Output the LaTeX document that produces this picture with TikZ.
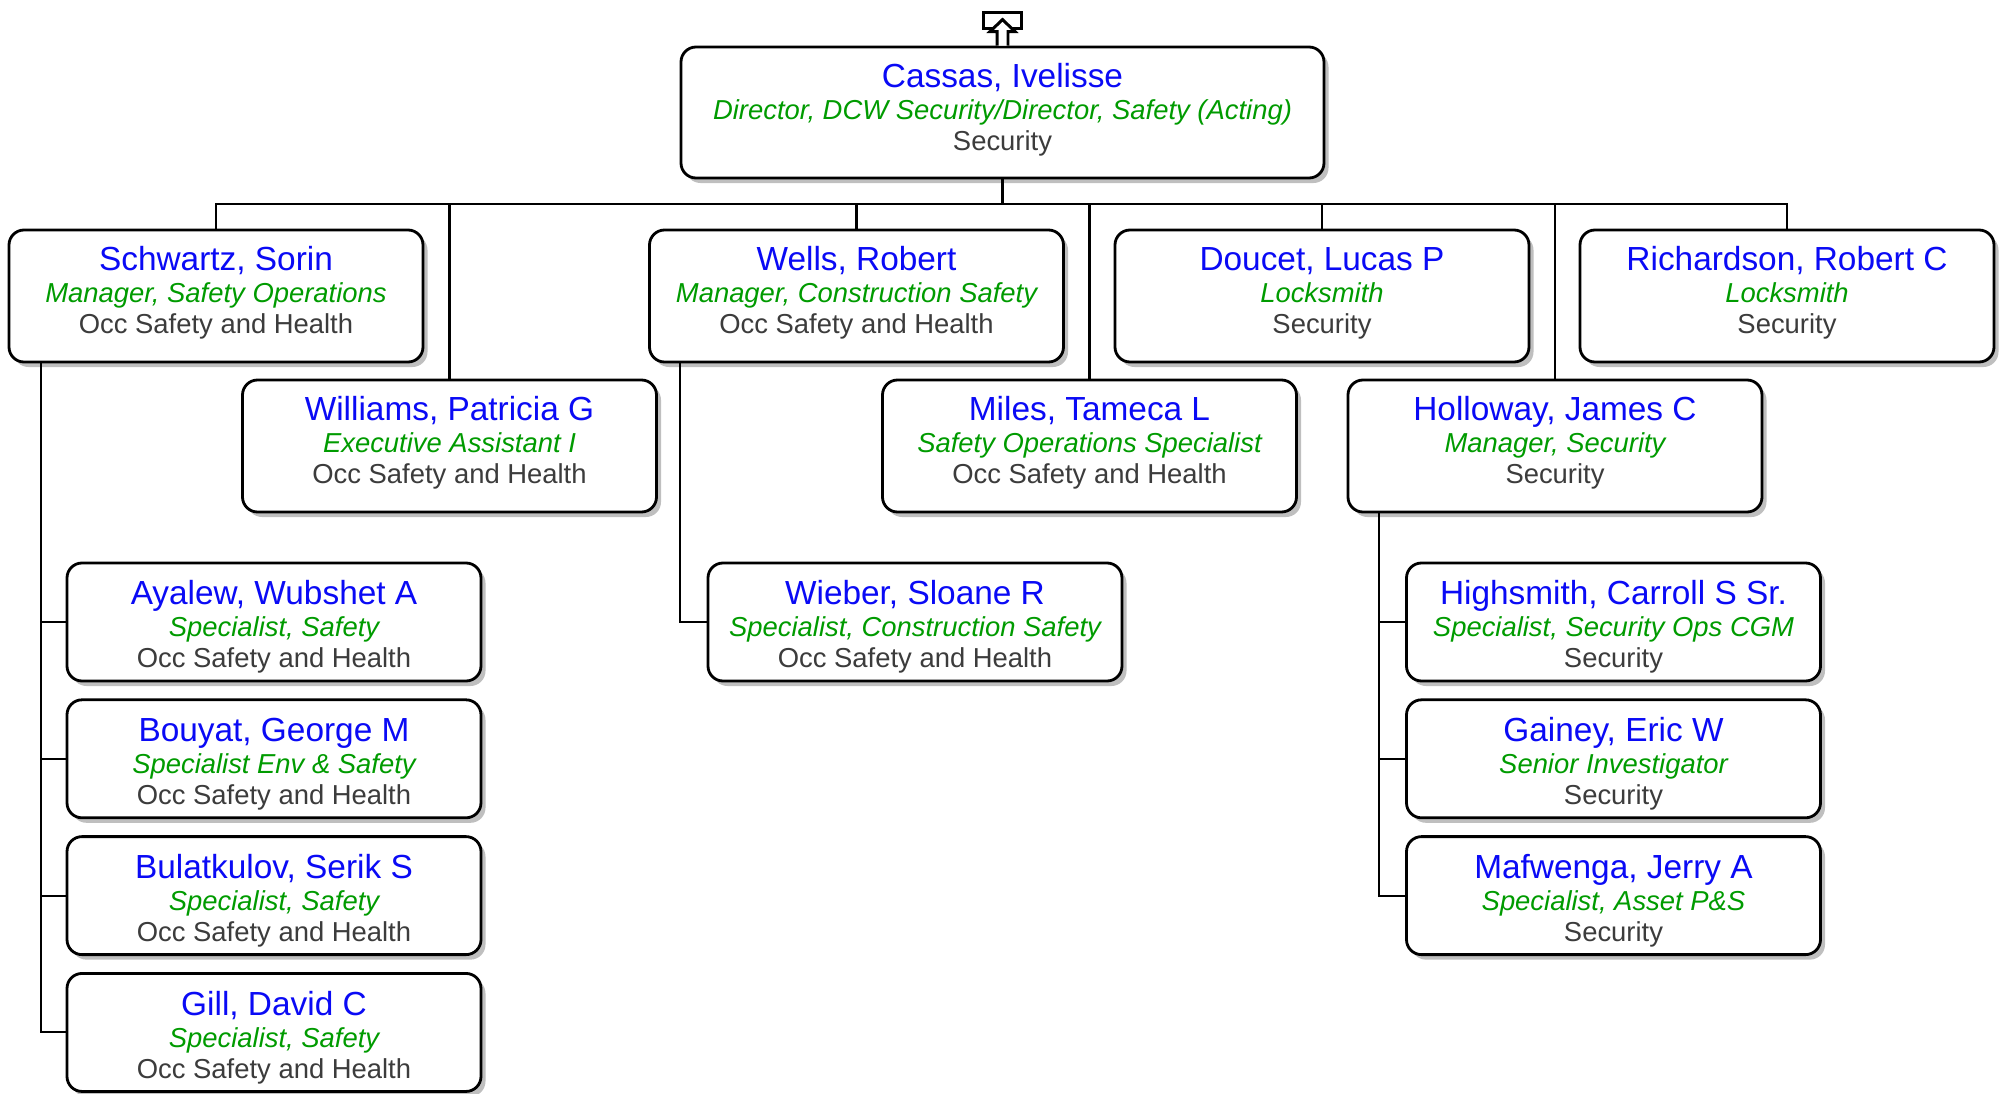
\documentclass[tikz,border=0pt]{standalone}
\usepackage{fontspec}
\setmainfont{Liberation Sans}
\usepackage{xcolor}
\usetikzlibrary{positioning,shadows}

\definecolor{nameblue}{RGB}{10,10,245}
\definecolor{titlegreen}{RGB}{0,155,0}
\definecolor{deptgray}{RGB}{60,60,60}

% one box: name / job title / department
\newcommand{\emp}[3]{{\fontsize{9.5}{11}\selectfont\color{nameblue}\rule{0pt}{\dimexpr 9pt+\toppad\relax}#1}\\[0.2pt]%
    {\itshape\color{titlegreen}#2}\\%
    {\color{deptgray}#3\rule[\dimexpr -2.5pt-\botpad\relax]{0pt}{\dimexpr 2.5pt+\botpad\relax}}}

\begin{document}
\begin{tikzpicture}[
    person/.style={draw=black, line width=0.8pt, fill=white, rounded corners=0.15cm,
        minimum width=4.14cm, minimum height=1.32cm, inner sep=0pt, align=center,
        font=\fontsize{7.8}{8.9}\selectfont,
        execute at begin node={\def\toppad{0pt}\def\botpad{2.9pt}},
        drop shadow={shadow xshift=0.045cm, shadow yshift=-0.05cm, fill=gray!50, opacity=1}},
    staff/.style={person, minimum height=1.18cm,
        execute at begin node={\def\toppad{1.6pt}\def\botpad{0pt}}},
    link/.style={line width=0.6pt},
    icon/.style={line width=0.85pt, fill=white, line join=miter}
]
    \useasboundingbox (0,0) rectangle (20.11,-10.94);

    % Director
    \node[person, minimum width=6.43cm, minimum height=1.31cm] (cassas) at (10.025,-1.125)
        {\emp{Cassas, Ivelisse}{Director, DCW Security/Director, Safety (Acting)}{Security}};

    % "up one level" marker
    \draw[icon] (cassas.north) ++(-0.19,0.175) rectangle ++(0.38,0.155);
    \draw[icon] (cassas.north) ++(-0.055,0) -- ++(0,0.14) -- ++(-0.07,0) -- ++(0.125,0.12)
        -- ++(0.125,-0.12) -- ++(-0.07,0) -- ++(0,-0.14);

    % Direct reports, upper row
    \node[person] (schwartz) at (2.16,-2.96)
        {\emp{Schwartz, Sorin}{Manager, Safety Operations}{Occ Safety and Health}};
    \node[person] (wells) at (8.565,-2.96)
        {\emp{Wells, Robert}{Manager, Construction Safety}{Occ Safety and Health}};
    \node[person] (doucet) at (13.22,-2.96)
        {\emp{Doucet, Lucas P}{Locksmith}{Security}};
    \node[person] (richardson) at (17.87,-2.96)
        {\emp{Richardson, Robert C}{Locksmith}{Security}};

    % Direct reports, lower row
    \node[person] (williams) at (4.495,-4.46)
        {\emp{Williams, Patricia G}{Executive Assistant I}{Occ Safety and Health}};
    \node[person] (miles) at (10.895,-4.46)
        {\emp{Miles, Tameca L}{Safety Operations Specialist}{Occ Safety and Health}};
    \node[person] (holloway) at (15.55,-4.46)
        {\emp{Holloway, James C}{Manager, Security}{Security}};

    % Schwartz's team
    \node[staff] (ayalew) at (2.74,-6.22)
        {\emp{Ayalew, Wubshet A}{Specialist, Safety}{Occ Safety and Health}};
    \node[staff, below=0.16cm of ayalew] (bouyat)
        {\emp{Bouyat, George M}{Specialist Env \& Safety}{Occ Safety and Health}};
    \node[staff, below=0.16cm of bouyat] (bulatkulov)
        {\emp{Bulatkulov, Serik S}{Specialist, Safety}{Occ Safety and Health}};
    \node[staff, below=0.16cm of bulatkulov] (gill)
        {\emp{Gill, David C}{Specialist, Safety}{Occ Safety and Health}};

    % Wells's team
    \node[staff] (wieber) at (9.15,-6.22)
        {\emp{Wieber, Sloane R}{Specialist, Construction Safety}{Occ Safety and Health}};

    % Holloway's team
    \node[staff] (highsmith) at (16.135,-6.22)
        {\emp{Highsmith, Carroll S Sr.}{Specialist, Security Ops CGM}{Security}};
    \node[staff, below=0.16cm of highsmith] (gainey)
        {\emp{Gainey, Eric W}{Senior Investigator}{Security}};
    \node[staff, below=0.16cm of gainey] (mafwenga)
        {\emp{Mafwenga, Jerry A}{Specialist, Asset P\&S}{Security}};

    % Connectors from the director
    \path (cassas.south) ++(0,-0.25) coordinate (bus);
    \draw[link] (cassas.south) -- (bus);
    \draw[link] (schwartz.north) |- (bus) -| (richardson.north);
    \foreach \n in {williams,wells,miles,doucet,holloway}
        \draw[link] (\n.north) -- (\n.north |- bus);

    % Team trunks
    \path (schwartz.south west) ++(0.33,0) coordinate (strunk);
    \draw[link] (strunk) |- (gill.west);
    \foreach \n in {ayalew,bouyat,bulatkulov}
        \draw[link] (\n.west) -- (\n.west -| strunk);

    \path (wells.south west) ++(0.32,0) coordinate (wtrunk);
    \draw[link] (wtrunk) |- (wieber.west);

    \path (holloway.south west) ++(0.32,0) coordinate (htrunk);
    \draw[link] (htrunk) |- (mafwenga.west);
    \foreach \n in {highsmith,gainey}
        \draw[link] (\n.west) -- (\n.west -| htrunk);
\end{tikzpicture}
\end{document}
